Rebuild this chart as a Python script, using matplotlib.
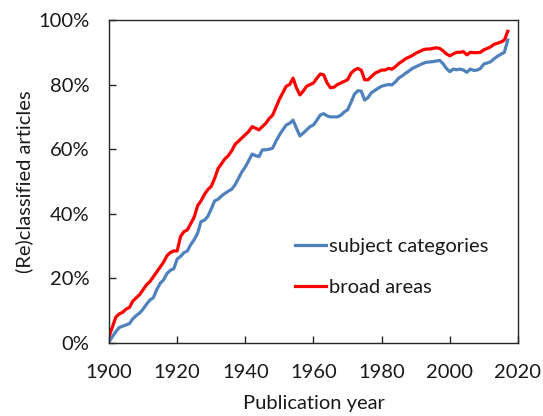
import matplotlib
matplotlib.use("Agg")
import matplotlib.pyplot as plt
from matplotlib.ticker import FuncFormatter, MultipleLocator

years = list(range(1900, 2018))

broad_areas = [
    2, 5, 8, 9, 9.5, 10.5, 11, 13, 14, 15,
    16.5, 18, 19, 20.5, 22, 23.5, 25, 27, 28, 28.5,
    28.5, 33, 34.5, 35, 37, 39, 42.5, 44, 46, 47.5,
    48.5, 51, 54, 55.5, 57, 58, 59.5, 61.5, 62.5, 63.5,
    64.5, 65.5, 67, 66.5, 66, 67, 68, 69.5, 70.5, 73,
    75.5, 77.5, 79.5, 80, 82, 79, 76.8, 78, 79.5, 80,
    80.5, 82, 83.3, 83, 80.5, 79, 79.2, 80, 80.5, 81,
    81.5, 83.5, 84.5, 85, 84.5, 81.5, 81.5, 82.5, 83.5, 84,
    84.5, 84.5, 85, 84.8, 85.5, 86.5, 87.2, 88, 88.5, 89,
    89.7, 90.2, 90.7, 91, 91, 91.2, 91.4, 91.2, 90.5, 89.5,
    88.9, 89.5, 90, 90, 90.2, 89.2, 90, 89.9, 89.9, 90,
    90.8, 91.2, 91.7, 92.5, 92.8, 93.2, 93.8, 96.5,
]

subject_categories = [
    0.3, 2, 3.5, 4.8, 5.2, 5.6, 6, 7.5, 8.5, 9.3,
    10.5, 12, 13.3, 14, 16.5, 18.5, 19.5, 21.5, 22.5, 23,
    26, 26.8, 28, 28.5, 30.5, 32, 34, 37.6, 38, 39.2,
    41.5, 44, 44.5, 45.5, 46.3, 47, 47.6, 49, 51, 53,
    54.5, 56.5, 58.5, 58, 57.7, 59.8, 59.8, 60, 60.3, 62.5,
    64.4, 66, 67.5, 68, 69, 66.5, 64.1, 65, 66, 67,
    67.5, 69, 70.6, 71, 70.3, 70, 70, 70, 70.5, 71.5,
    72.2, 74.5, 77, 78.1, 78, 75.2, 76, 77.5, 78.2, 78.9,
    79.5, 79.8, 80, 79.9, 80.8, 82, 82.7, 83.5, 84.2, 85,
    85.5, 86, 86.5, 86.9, 87, 87.1, 87.3, 87.5, 86.5, 85,
    84, 84.8, 84.6, 84.8, 84.5, 83.8, 84.8, 84.4, 84.5, 85,
    86.4, 86.7, 87.1, 88, 88.8, 89.4, 90, 93.8,
]

series_labels = ["subject categories", "broad areas"]
x_label = "Publication year"
y_label = "(Re)classified articles"

plt.rcParams["font.family"] = ["Lato", "DejaVu Sans"]
FS = 14.5

fig = plt.figure(figsize=(5.43, 4.16), dpi=100)
ax = fig.add_axes([109 / 543, 1 - 343 / 416, 409 / 543, 323 / 416])

ax.plot(years, subject_categories, color="#4F81BD", lw=2.3, label=series_labels[0])
ax.plot(years, broad_areas, color="#FF0000", lw=2.3, label=series_labels[1])

ax.set_xlim(1900, 2020)
ax.set_ylim(0, 100)
ax.xaxis.set_major_locator(MultipleLocator(20))
ax.yaxis.set_major_locator(MultipleLocator(20))
ax.yaxis.set_major_formatter(FuncFormatter(lambda v, p: f"{v:.0f}%"))

for s in ax.spines.values():
    s.set_color("#262626")
    s.set_linewidth(1.0)

ax.tick_params(axis="both", direction="in", length=5, width=1, color="#262626",
               labelsize=FS, labelcolor="#1a1a1a")
ax.tick_params(axis="x", pad=15)
ax.tick_params(axis="y", pad=14)

ax.set_xlabel(x_label, fontsize=FS, color="#1a1a1a", labelpad=10)
ax.set_ylabel(y_label, fontsize=FS, color="#1a1a1a", labelpad=4)

leg = ax.legend(loc="upper left", bbox_to_anchor=(0.455, 0.325), frameon=False,
                fontsize=FS, handlelength=1.55, handletextpad=0.15,
                labelspacing=1.2, borderpad=0, borderaxespad=0)
for t in leg.get_texts():
    t.set_color("#1a1a1a")

fig.savefig("out.png", dpi=100)
